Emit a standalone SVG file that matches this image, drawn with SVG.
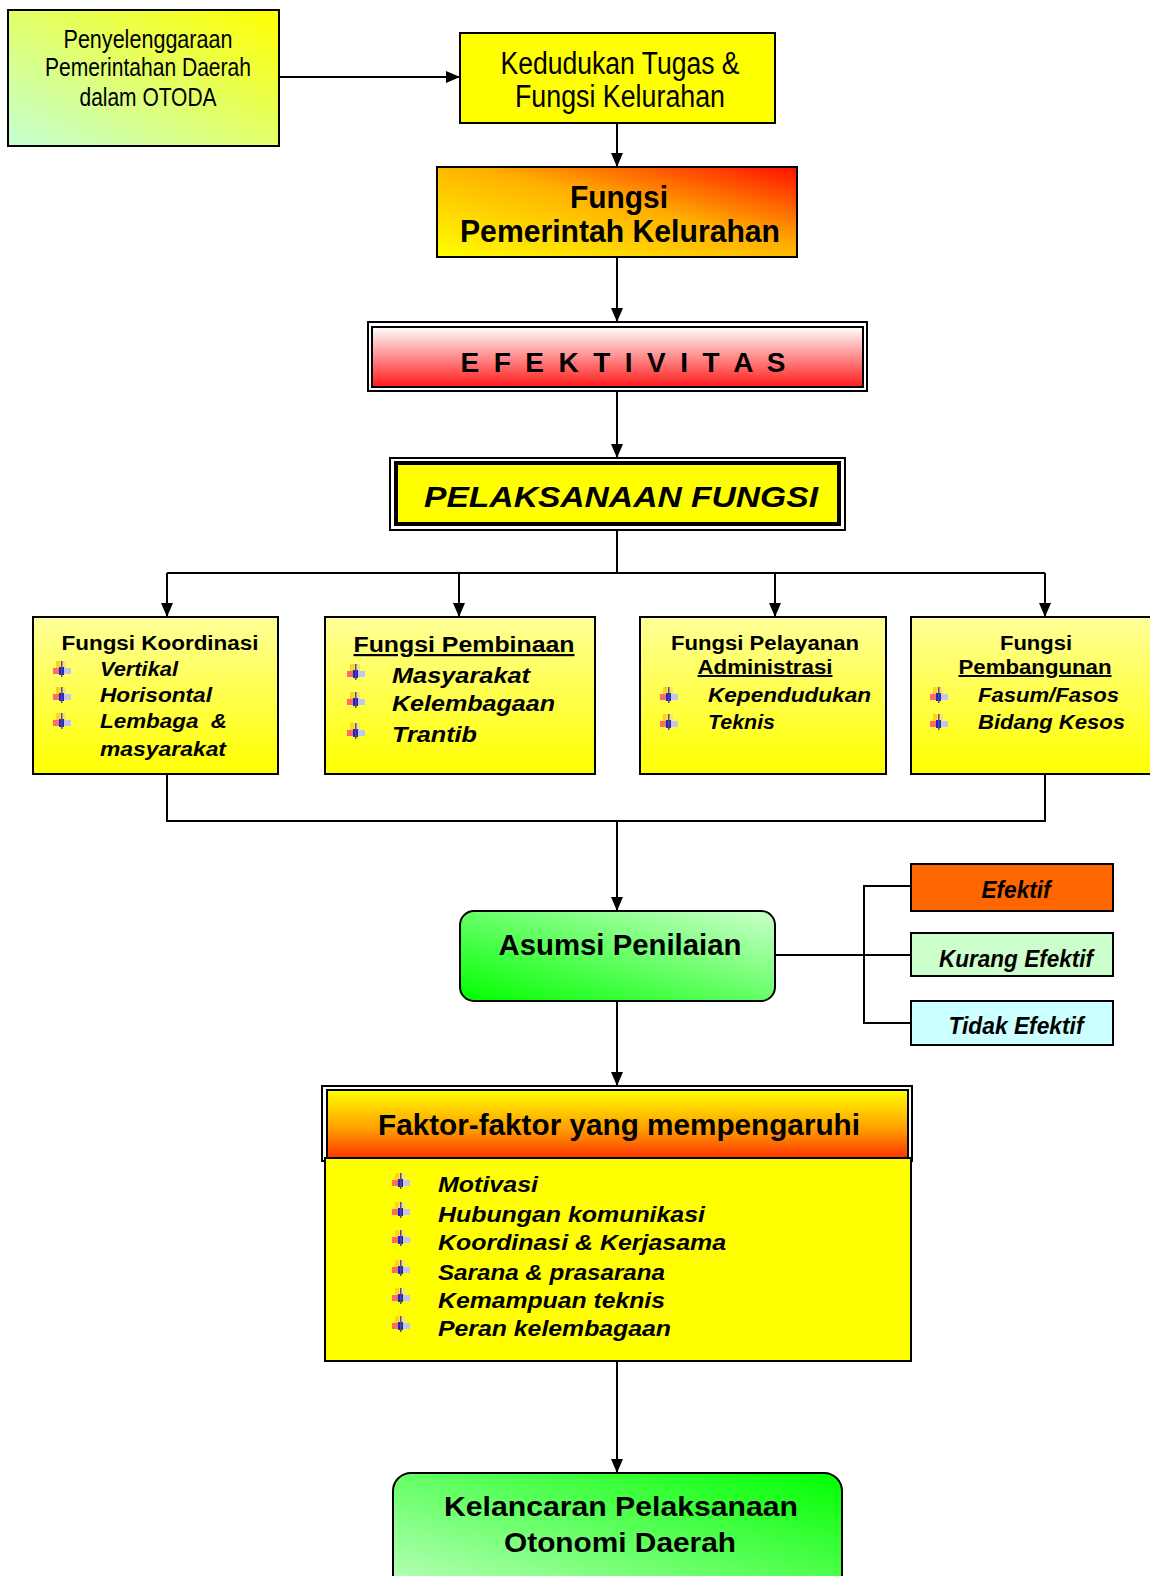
<svg xmlns="http://www.w3.org/2000/svg" width="1150" height="1576" viewBox="0 0 1150 1576">
<style>
.bx{stroke:#000;stroke-width:2}
.ln{fill:none;stroke:#000;stroke-width:2}
text{font-family:"Liberation Sans",Arial,sans-serif;fill:#000}
.n{font-family:"Liberation Sans Narrow","Liberation Sans",Arial,sans-serif}
.b{font-weight:bold}
.i{font-style:italic}
.c{text-anchor:middle}
.u{text-decoration:underline}
</style>
<defs>
<marker id="ar" markerUnits="userSpaceOnUse" markerWidth="14" markerHeight="14" viewBox="0 0 14 14" refX="14" refY="7" orient="auto">
<path d="M0,1 L14,7 L0,13 Z" fill="#000"/>
</marker>
<linearGradient id="gPeny" x1="0" y1="1" x2="1" y2="0">
<stop offset="0" stop-color="#c4ffd4"/><stop offset="1" stop-color="#ffff00"/>
</linearGradient>
<linearGradient id="gFP" x1="0" y1="1" x2="1" y2="0">
<stop offset="0" stop-color="#ffff00"/><stop offset="0.55" stop-color="#ffb000"/><stop offset="1" stop-color="#ff1000"/>
</linearGradient>
<linearGradient id="gEf" x1="0" y1="0" x2="0" y2="1">
<stop offset="0" stop-color="#ffffff"/><stop offset="1" stop-color="#ff1a1a"/>
</linearGradient>
<linearGradient id="gBox" x1="0" y1="0" x2="0" y2="1">
<stop offset="0" stop-color="#ffff99"/><stop offset="1" stop-color="#ffff00"/>
</linearGradient>
<linearGradient id="gAs" x1="0" y1="1" x2="1" y2="0">
<stop offset="0" stop-color="#00ff00"/><stop offset="1" stop-color="#ccffcc"/>
</linearGradient>
<linearGradient id="gKel" x1="0" y1="1" x2="1" y2="0">
<stop offset="0" stop-color="#ccffcc"/><stop offset="1" stop-color="#00ff00"/>
</linearGradient>
<linearGradient id="gFak" x1="0" y1="0" x2="0" y2="1">
<stop offset="0" stop-color="#ffff00"/><stop offset="0.6" stop-color="#ff9900"/><stop offset="1" stop-color="#ff3300"/>
</linearGradient>
<filter id="soft" x="-10%" y="-10%" width="120%" height="120%"><feGaussianBlur stdDeviation="0.6"/></filter>
<symbol id="bul" viewBox="0 0 18 16" width="18" height="16">
<g filter="url(#soft)">
<rect x="3" y="0" width="10" height="7" fill="#f6e27a"/>
<rect x="3" y="0" width="4" height="7" fill="#ffd21e"/>
<rect x="0" y="7" width="6" height="6" fill="#ff6a6a"/>
<rect x="11" y="7" width="7" height="6" fill="#c4c4f2"/>
<rect x="6" y="6" width="5" height="8" fill="#2222cc"/>
<rect x="8" y="0" width="1.5" height="16" fill="#505070"/>
</g>
</symbol>
</defs>

<g id="connectors">
<line class="ln" x1="279" y1="77" x2="460" y2="77" marker-end="url(#ar)"/>
<line class="ln" x1="617" y1="123" x2="617" y2="167" marker-end="url(#ar)"/>
<line class="ln" x1="617" y1="257" x2="617" y2="322" marker-end="url(#ar)"/>
<line class="ln" x1="617" y1="391" x2="617" y2="458" marker-end="url(#ar)"/>
<line class="ln" x1="617" y1="530" x2="617" y2="573"/>
<line class="ln" x1="167" y1="573" x2="1045" y2="573"/>
<line class="ln" x1="167" y1="573" x2="167" y2="617" marker-end="url(#ar)"/>
<line class="ln" x1="459" y1="573" x2="459" y2="617" marker-end="url(#ar)"/>
<line class="ln" x1="775" y1="573" x2="775" y2="617" marker-end="url(#ar)"/>
<line class="ln" x1="1045" y1="573" x2="1045" y2="617" marker-end="url(#ar)"/>
<polyline class="ln" points="167,774 167,821 1045,821 1045,774"/>
<line class="ln" x1="617" y1="821" x2="617" y2="911" marker-end="url(#ar)"/>
<line class="ln" x1="775" y1="955" x2="911" y2="955"/>
<polyline class="ln" points="911,886 864,886 864,1023 911,1023"/>
<line class="ln" x1="617" y1="1001" x2="617" y2="1086" marker-end="url(#ar)"/>
<line class="ln" x1="617" y1="1361" x2="617" y2="1473" marker-end="url(#ar)"/>
</g>

<g id="penyelenggaraan">
<rect class="bx" x="8" y="10" width="271" height="136" fill="url(#gPeny)"/>
<text class="n c" x="148" y="48" font-size="25" textLength="169" lengthAdjust="spacingAndGlyphs">Penyelenggaraan</text>
<text class="n c" x="148" y="76" font-size="25" textLength="206" lengthAdjust="spacingAndGlyphs">Pemerintahan Daerah</text>
<text class="n c" x="148" y="106" font-size="25" textLength="137" lengthAdjust="spacingAndGlyphs">dalam OTODA</text>
</g>

<g id="kedudukan">
<rect class="bx" x="460" y="33" width="315" height="90" fill="#ffff00"/>
<text class="n c" x="620" y="74" font-size="31" textLength="239" lengthAdjust="spacingAndGlyphs">Kedudukan Tugas &amp;</text>
<text class="n c" x="620" y="107" font-size="31" textLength="210" lengthAdjust="spacingAndGlyphs">Fungsi Kelurahan</text>
</g>

<g id="fungsi-pemerintah">
<rect class="bx" x="437" y="167" width="360" height="90" fill="url(#gFP)"/>
<text class="n b c" x="619" y="208" font-size="32" textLength="98" lengthAdjust="spacingAndGlyphs">Fungsi</text>
<text class="n b c" x="620" y="242" font-size="32" textLength="320" lengthAdjust="spacingAndGlyphs">Pemerintah Kelurahan</text>
</g>

<g id="efektivitas">
<rect class="bx" x="368" y="322" width="499" height="69" fill="#fff"/>
<rect class="bx" x="372" y="327" width="491" height="60" fill="url(#gEf)"/>
<text class="b c" x="623" y="372" font-size="28" textLength="325" lengthAdjust="spacing">E F E K T I V I T A S</text>
</g>

<g id="pelaksanaan">
<rect class="bx" x="390" y="458" width="455" height="72" fill="#fff"/>
<rect x="396" y="463" width="443" height="61" fill="#ffff00" stroke="#000" stroke-width="4"/>
<text class="b i c" x="621" y="507" font-size="30" textLength="394" lengthAdjust="spacingAndGlyphs">PELAKSANAAN FUNGSI</text>
</g>

<g id="fungsi-koordinasi">
<rect class="bx" x="33" y="617" width="245" height="157" fill="url(#gBox)"/>
<text class="b c" x="160" y="650" font-size="20" textLength="197" lengthAdjust="spacingAndGlyphs">Fungsi Koordinasi</text>
<use href="#bul" x="53" y="661"/><use href="#bul" x="53" y="687"/><use href="#bul" x="53" y="713"/>
<text class="b i" x="100" y="676" font-size="20" textLength="78" lengthAdjust="spacingAndGlyphs">Vertikal</text>
<text class="b i" x="100" y="702" font-size="20" textLength="112" lengthAdjust="spacingAndGlyphs">Horisontal</text>
<text class="b i" x="100" y="728" font-size="20" textLength="127" lengthAdjust="spacingAndGlyphs" xml:space="preserve">Lembaga  &amp;</text>
<text class="b i" x="100" y="756" font-size="20" textLength="126" lengthAdjust="spacingAndGlyphs">masyarakat</text>
</g>

<g id="fungsi-pembinaan">
<rect class="bx" x="325" y="617" width="270" height="157" fill="url(#gBox)"/>
<text class="b c u" x="464" y="652" font-size="22" textLength="221" lengthAdjust="spacingAndGlyphs">Fungsi Pembinaan</text>
<use href="#bul" x="347" y="664"/><use href="#bul" x="347" y="692"/><use href="#bul" x="347" y="723"/>
<text class="b i" x="392" y="683" font-size="22" textLength="138" lengthAdjust="spacingAndGlyphs">Masyarakat</text>
<text class="b i" x="392" y="711" font-size="22" textLength="163" lengthAdjust="spacingAndGlyphs">Kelembagaan</text>
<text class="b i" x="392" y="742" font-size="22" textLength="85" lengthAdjust="spacingAndGlyphs">Trantib</text>
</g>

<g id="fungsi-pelayanan">
<rect class="bx" x="640" y="617" width="246" height="157" fill="url(#gBox)"/>
<text class="b c" x="765" y="650" font-size="20" textLength="188" lengthAdjust="spacingAndGlyphs">Fungsi Pelayanan</text>
<text class="b c u" x="765" y="674" font-size="20" textLength="135" lengthAdjust="spacingAndGlyphs">Administrasi</text>
<use href="#bul" x="660" y="687"/><use href="#bul" x="660" y="714"/>
<text class="b i" x="708" y="702" font-size="20" textLength="163" lengthAdjust="spacingAndGlyphs">Kependudukan</text>
<text class="b i" x="708" y="729" font-size="20" textLength="67" lengthAdjust="spacingAndGlyphs">Teknis</text>
</g>

<g id="fungsi-pembangunan">
<rect class="bx" x="911" y="617" width="250" height="157" fill="url(#gBox)"/>
<text class="b c" x="1036" y="650" font-size="20" textLength="72" lengthAdjust="spacingAndGlyphs">Fungsi</text>
<text class="b c u" x="1035" y="674" font-size="20" textLength="153" lengthAdjust="spacingAndGlyphs">Pembangunan</text>
<use href="#bul" x="930" y="687"/><use href="#bul" x="930" y="714"/>
<text class="b i" x="978" y="702" font-size="20" textLength="141" lengthAdjust="spacingAndGlyphs">Fasum/Fasos</text>
<text class="b i" x="978" y="729" font-size="20" textLength="147" lengthAdjust="spacingAndGlyphs">Bidang Kesos</text>
</g>

<g id="asumsi">
<rect class="bx" x="460" y="911" width="315" height="90" rx="14" fill="url(#gAs)"/>
<text class="n b c" x="620" y="955" font-size="30" textLength="243" lengthAdjust="spacingAndGlyphs">Asumsi Penilaian</text>
</g>

<g id="efektif">
<rect class="bx" x="911" y="864" width="202" height="47" fill="#ff6600"/>
<text class="n b i c" x="1016" y="898" font-size="23" textLength="69" lengthAdjust="spacingAndGlyphs">Efektif</text>
</g>
<g id="kurang-efektif">
<rect class="bx" x="911" y="933" width="202" height="43" fill="#ccffcc"/>
<text class="n b i c" x="1016" y="967" font-size="23" textLength="154" lengthAdjust="spacingAndGlyphs">Kurang Efektif</text>
</g>
<g id="tidak-efektif">
<rect class="bx" x="911" y="1001" width="202" height="44" fill="#ccffff"/>
<text class="n b i c" x="1016" y="1034" font-size="23" textLength="135" lengthAdjust="spacingAndGlyphs">Tidak Efektif</text>
</g>

<g id="faktor">
<rect class="bx" x="322" y="1086" width="590" height="75" fill="#fff"/>
<rect class="bx" x="327" y="1090" width="581" height="68" fill="url(#gFak)"/>
<rect class="bx" x="325" y="1158" width="586" height="203" fill="#ffff00"/>
<text class="n b c" x="619" y="1135" font-size="30" textLength="482" lengthAdjust="spacingAndGlyphs">Faktor-faktor yang mempengaruhi</text>
<use href="#bul" x="392" y="1173"/><use href="#bul" x="392" y="1202"/><use href="#bul" x="392" y="1230"/>
<use href="#bul" x="392" y="1260"/><use href="#bul" x="392" y="1288"/><use href="#bul" x="392" y="1316"/>
<text class="b i" x="438" y="1192" font-size="22" textLength="100" lengthAdjust="spacingAndGlyphs">Motivasi</text>
<text class="b i" x="438" y="1222" font-size="22" textLength="267" lengthAdjust="spacingAndGlyphs">Hubungan komunikasi</text>
<text class="b i" x="438" y="1250" font-size="22" textLength="288" lengthAdjust="spacingAndGlyphs">Koordinasi &amp; Kerjasama</text>
<text class="b i" x="438" y="1280" font-size="22" textLength="227" lengthAdjust="spacingAndGlyphs">Sarana &amp; prasarana</text>
<text class="b i" x="438" y="1308" font-size="22" textLength="227" lengthAdjust="spacingAndGlyphs">Kemampuan teknis</text>
<text class="b i" x="438" y="1336" font-size="22" textLength="233" lengthAdjust="spacingAndGlyphs">Peran kelembagaan</text>
</g>

<g id="kelancaran">
<rect class="bx" x="393" y="1473" width="449" height="140" rx="18" fill="url(#gKel)"/>
<text class="b c" x="621" y="1516" font-size="28" textLength="354" lengthAdjust="spacingAndGlyphs">Kelancaran Pelaksanaan</text>
<text class="b c" x="620" y="1552" font-size="28" textLength="232" lengthAdjust="spacingAndGlyphs">Otonomi Daerah</text>
</g>
</svg>
